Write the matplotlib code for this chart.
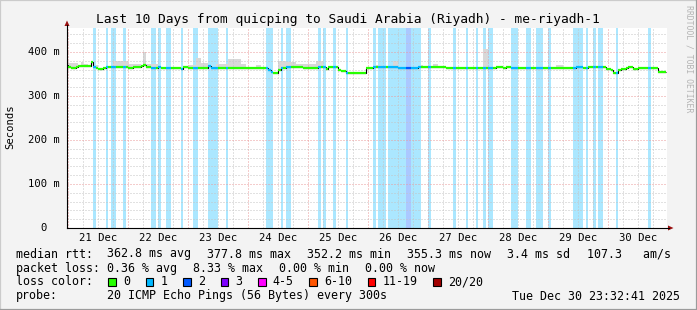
import numpy as np
import matplotlib
matplotlib.use("Agg")
from matplotlib import pyplot as plt
import matplotlib.patches as patches
from matplotlib.lines import Line2D
from matplotlib.transforms import blended_transform_factory

W, H = 697, 310
DPI = 100
MONO = "DejaVu Sans Mono"

title = "Last 10 Days from quicping to Saudi Arabia (Riyadh) - me-riyadh-1"
day_labels = ["21 Dec", "22 Dec", "23 Dec", "24 Dec", "25 Dec",
              "26 Dec", "27 Dec", "28 Dec", "29 Dec", "30 Dec"]
y_ticks = [0, 100, 200, 300, 400]
y_tick_labels = ["0", "100 m", "200 m", "300 m", "400 m"]

# time is in hours since 21 Dec 00:00, graph covers 20 Dec 23:32:41 .. 30 Dec 23:32:41
t_start = -(27 * 60 + 19) / 3600.0
t_span = 240.0
y_top = 454.5

# median rtt (ms), hourly steps: value holds from that hour until the next one
med_hour = [-1, 0, 1, 3, 4, 9, 10, 11, 12, 14, 15, 17, 22, 24, 26, 29, 30, 31, 33, 36,
            37, 45, 46, 48, 56, 57, 60, 68, 78, 80, 81, 82, 84, 85, 87, 94, 95, 100, 103,
            104, 108, 109, 111, 119, 122, 123, 124, 128, 132, 135, 140, 151, 158, 163,
            164, 167, 171, 172, 174, 175, 177, 182, 203, 206, 208, 215, 217, 218, 220,
            221, 223, 224, 226, 228, 236]
med_ms = [370, 366, 363, 365, 367.5, 378, 365, 363.6, 362, 363.6, 366.6, 365, 366.6, 364,
          366.6, 369, 371, 366.6, 363.6, 365, 363.6, 361, 365, 364.5, 369, 363, 363.6, 363,
          363.6, 359, 354.5, 352, 359, 363.6, 365, 363, 363.6, 365, 362, 365, 360, 356, 353,
          363.6, 365, 366, 366.6, 366, 364, 363.6, 365, 363, 363.6, 362.5, 363.6, 363, 365,
          367, 363, 367, 363, 363.6, 365, 363, 365, 362, 359, 353, 359, 361, 363.6, 366, 361,
          363, 355.5]
last_hour = 239

# packet loss periods: start hour, length in hours, loss class
loss_start = [10, 15, 17, 22, 33, 36, 39, 45, 50, 56, 63, 79, 85, 87, 100, 102, 106, 111,
              122, 124, 128, 135, 137, 144, 154, 159, 163, 166, 168, 177, 183, 187, 192,
              202, 207, 210, 212, 219, 232]
loss_len = [1, 1, 2, 1, 2, 1, 2, 1, 2, 4, 1, 3, 1, 2, 1, 1, 1, 1,
            1, 3, 7, 2, 4, 1, 1, 1, 1, 1, 2, 3, 2, 3, 1,
            4, 1, 1, 2, 1, 1]
loss_class = [1] * 21 + [2] + [1] * 17

# smoke (ping spread above the median)
smoke_from = [0.2, 4.7, 6.2, 10.7, 18.2, 24.2, 29.6, 31.5, 48.2, 50.9, 53.5, 59.5, 64.2,
              68.9, 74.7, 84.2, 87.5, 90.9, 94.2, 98.9, 122.7, 130.2, 140.7, 146.2, 166.2,
              194.7]
smoke_to = [4.2, 6.2, 8.2, 12.3, 24.2, 29.5, 30.9, 36.2, 50.9, 53.5, 56.2, 64.2, 68.9,
            71.5, 77.5, 87.5, 90.9, 94.2, 98.9, 102.2, 125.5, 132.2, 142.2, 148.2, 168.2,
            198.2]
smoke_ms = [374, 377, 373, 370, 380, 373, 399, 372, 371, 386, 374, 373, 384,
            373, 370, 380, 377, 373, 372, 380, 371, 380, 370, 373, 407, 370]

loss_colors = ["#26ff00", "#00b8ff", "#0059ff", "#7e00ff", "#ff00ff", "#ff5500", "#ff0000", "#a10000"]
loss_labels = ["0", "1", "2", "3", "4-5", "6-10", "11-19", "20/20"]

stats_rtt = ["362.8 ms avg", "377.8 ms max", "352.2 ms min", "355.3 ms now", "3.4 ms sd", "107.3   am/s"]
stats_loss = ["0.36 % avg", "8.33 % max", "0.00 % min", "0.00 % now"]
probe_text = "20 ICMP Echo Pings (56 Bytes) every 300s"
stamp = "Tue Dec 30 23:32:41 2025"


def fx(px):
    return px / W


def fy(py):
    return 1 - py / H


# hourly series
edges = np.arange(med_hour[0], last_hour + 1)
centers = edges[:-1] + 0.5
idx = np.searchsorted(med_hour, centers, side="right") - 1
median = np.array(med_ms)[idx]

loss = np.zeros(len(centers), dtype=int)
for s, n, c in zip(loss_start, loss_len, loss_class):
    loss[(centers > s) & (centers < s + n)] = c

smoke = median.copy()
for a, b, v in zip(smoke_from, smoke_to, smoke_ms):
    m = (centers >= a) & (centers < b)
    smoke[m] = np.maximum(smoke[m], v)

fig = plt.figure(figsize=(W / DPI, H / DPI), dpi=DPI, facecolor="#f3f3f3")
ax = fig.add_axes([fx(67), fy(228), 600 / W, 200 / H])
ax.set_facecolor("white")
for sp in ax.spines.values():
    sp.set_visible(False)

ax.set_xlim(t_start, t_start + t_span)
ax.set_ylim(0, y_top)

# loss bars
for s, n, c in zip(loss_start, loss_len, loss_class):
    ax.bar(s, y_top, width=n, align="edge", color=loss_colors[c], alpha=0.33, lw=0, zorder=1)

# smoke
ax.stairs(smoke, edges, baseline=median, fill=True, color="#d8d8d8", lw=0, zorder=1.2)

# median: black steps, then colored by loss
ax.stairs(median, edges, baseline=None, color="black", lw=0.8, zorder=2)
ax.hlines(median, edges[:-1], edges[1:], colors=[loss_colors[c] for c in loss], lw=1.6, zorder=2.1)

# grid
ax.set_xticks(np.arange(0, 240, 24))
ax.set_xticks([h for h in range(6, 240, 6) if h % 24], minor=True)
ax.set_yticks(y_ticks)
ax.set_yticks([v for v in range(20, 460, 20) if v % 100], minor=True)
ax.grid(which="major", color="#eb9a9a", ls=(0, (1, 2)), lw=0.72)
ax.grid(which="minor", color="#c4c4c4", ls=(0, (1, 2)), lw=0.72)
ax.set_axisbelow("line")
ax.tick_params(which="both", length=0, labelbottom=False, labelleft=False)

# tick labels
tr = blended_transform_factory(ax.transData, fig.transFigure)
for i, lab in enumerate(day_labels):
    ax.text(12 + 24 * i, fy(238), lab, transform=tr, ha="center", va="center",
            family=MONO, fontsize=7.6)
tr = blended_transform_factory(fig.transFigure, ax.transData)
for v, lab in zip(y_ticks, y_tick_labels):
    xr = 46.8 if lab == "0" else 59.4
    ax.text(fx(xr), v, lab, transform=tr, ha="right", va="center", family=MONO, fontsize=7.6)

# axes with arrows
fig.add_artist(Line2D([fx(67), fx(669)], [fy(228), fy(228)], color="black", lw=0.8))
fig.add_artist(Line2D([fx(67), fx(67)], [fy(228), fy(25)], color="black", lw=0.8))
fig.add_artist(patches.Polygon([(fx(64.5), fy(26)), (fx(69.5), fy(26)), (fx(67), fy(20.5))],
                               closed=True, transform=fig.transFigure, color="#9a1010", lw=0))
fig.add_artist(patches.Polygon([(fx(668), fy(225.5)), (fx(668), fy(230.5)), (fx(673.5), fy(228))],
                               closed=True, transform=fig.transFigure, color="#9a1010", lw=0))

# frame
fig.add_artist(Line2D([0, 0], [0, 1], color="#cbcbcb", lw=1.6))
fig.add_artist(Line2D([0, 1], [1, 1], color="#cbcbcb", lw=1.6))
fig.add_artist(Line2D([1, 1], [0, 1], color="#9b9b9b", lw=1.6))
fig.add_artist(Line2D([0, 1], [0, 0], color="#9b9b9b", lw=1.6))

# texts
fig.text(fx(347.5), fy(19), title, ha="center", va="center", family=MONO, fontsize=9.3)
fig.text(fx(10), fy(127), "Seconds", ha="center", va="center", rotation=90, family=MONO, fontsize=7.6)
fig.text(fx(688.5), fy(59), "RRDTOOL / TOBI OETIKER", ha="center", va="center", rotation=270,
         family=MONO, fontsize=5.9, color="#b4b4b4")

LS = 8.4
fig.text(fx(16), fy(254), "median rtt:", va="center", family=MONO, fontsize=LS)
for i, s in enumerate(stats_rtt):
    fig.text(fx(107.3 + 100 * i if i < 5 else 586.7), fy(254), s, va="center", family=MONO, fontsize=LS)

fig.text(fx(16), fy(268.3), "packet loss:", va="center", family=MONO, fontsize=LS)
for i, s in enumerate(stats_loss):
    fig.text(fx(107.3 + 86 * i), fy(268.3), s, va="center", family=MONO, fontsize=LS)

fig.text(fx(16), fy(281.7), "loss color:", va="center", family=MONO, fontsize=LS)
xpos = 108.3
for col, lab in zip(loss_colors, loss_labels):
    fig.add_artist(patches.Rectangle((fx(xpos), fy(285.6)), 7.6 / W, 7.6 / H, transform=fig.transFigure,
                                     facecolor=col, edgecolor="black", lw=0.8))
    fig.text(fx(xpos + 15), fy(281.7), lab, va="center", family=MONO, fontsize=LS)
    xpos += 15 + 7 * len(lab) + 15.4

fig.text(fx(16), fy(296), "probe:", va="center", family=MONO, fontsize=LS)
fig.text(fx(107.3), fy(296), probe_text, va="center", family=MONO, fontsize=LS)
fig.text(fx(680), fy(296), stamp, ha="right", va="center", family=MONO, fontsize=LS)

fig.savefig("out.png", dpi=DPI, facecolor=fig.get_facecolor())
